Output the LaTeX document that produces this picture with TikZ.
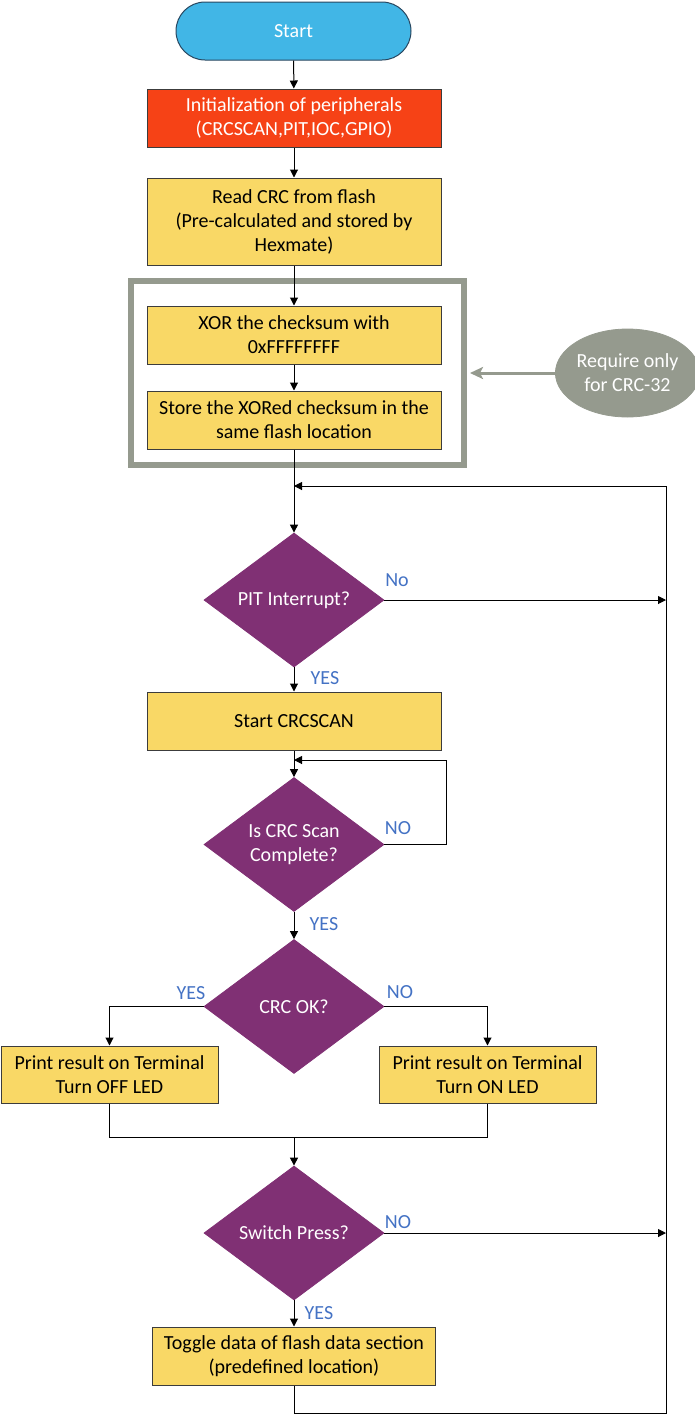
\documentclass[tikz,border=0pt]{standalone}
\usepackage{fontspec}
\setmainfont{Carlito}
\usetikzlibrary{shapes.geometric,arrows.meta}
\definecolor{startblue}{RGB}{65,182,230}
\definecolor{startedge}{RGB}{40,70,95}
\definecolor{initred}{RGB}{246,66,22}
\definecolor{boxyellow}{RGB}{249,216,102}
\definecolor{decpurple}{RGB}{128,48,116}
\definecolor{framegray}{RGB}{149,154,142}
\definecolor{lblblue}{RGB}{68,114,196}
\definecolor{edgedark}{RGB}{60,60,60}
\begin{document}
\begin{tikzpicture}[x=0.5pt,y=-0.5pt,
 every node/.style={font=\fontsize{10}{12}\selectfont, align=center, inner sep=0pt},
 procbox/.style={rectangle, draw=edgedark, line width=0.5pt, fill=boxyellow, minimum width=147pt, minimum height=29pt},
 decision/.style={diamond, aspect=1.33, fill=decpurple, draw=decpurple, minimum width=90pt, minimum height=67pt, text=white},
 lbl/.style={text=lblblue},
 arr/.style={draw=black, line width=0.5pt, -{Triangle[length=4pt,width=4pt]}},
 conn/.style={draw=black, line width=0.5pt}]

\useasboundingbox (0,0) rectangle (695,1415);

% frame for CRC-32 part
\node[rectangle, draw=framegray, line width=3pt, minimum width=166.5pt, minimum height=92pt] (frame) at (297.5,373) {};

\node[rectangle, rounded corners=14.5pt, fill=startblue, draw=startedge, line width=0.5pt, minimum width=117.5pt, minimum height=29pt, text=white] (start) at (293.5,31) {Start};
\node[procbox, fill=initred, text=white] (init) at (294,118) {Initialization of peripherals\\(CRCSCAN,PIT,IOC,GPIO)};
\node[procbox, minimum height=43.5pt] (read) at (294,221.5) {Read CRC from flash\\(Pre-calculated and stored by\\Hexmate)};
\node[procbox] (xor) at (294,335) {XOR the checksum with\\0xFFFFFFFF};
\node[procbox] (store) at (294,420) {Store the XORed checksum in the\\same flash location};

\node[ellipse, fill=framegray, draw=framegray, minimum width=65.5pt, minimum height=44pt, text=white] (note) at (627.5,373) {Require only\\for CRC-32};

\node[decision] (pit) at (294,600) {PIT Interrupt?};
\node[procbox] (scan) at (294,721) {Start CRCSCAN};
\node[decision] (iscrc) at (294,844.5) {Is CRC Scan\\Complete?};
\node[decision] (crcok) at (294,1006.5) {CRC OK?};
\node[procbox, minimum width=108.5pt, minimum height=28.5pt] (okbox) at (109.5,1074.5) {Print result on Terminal\\Turn OFF LED};
\node[procbox, minimum width=108.5pt, minimum height=28.5pt] (failbox) at (487.5,1074.5) {Print result on Terminal\\Turn ON LED};
\node[decision] (switch) at (294,1233) {Switch Press?};
\node[procbox, minimum width=141.5pt] (toggle) at (294,1356) {Toggle data of flash data section\\(predefined location)};

% labels
\node[lbl] (l1) at (397,580) {No};
\node[lbl] (l2) at (325,678) {YES};
\node[lbl] (l3) at (398,828) {NO};
\node[lbl] (l4) at (324,924) {YES};
\node[lbl] (l5) at (191,993) {YES};
\node[lbl] (l6) at (400,992) {NO};
\node[lbl] (l7) at (398,1222) {NO};
\node[lbl] (l8) at (319,1313) {YES};

% helper coordinates
\coordinate (jpit) at (666,600);
\coordinate (jsw) at (666,1233);
\coordinate (la) at (446,760);
\coordinate (lb) at (294,760);
\coordinate (m) at (294,1137);
\coordinate (b1) at (294,1413);
\coordinate (b2) at (666,1413);
\coordinate (b3) at (666,486);
\coordinate (b4) at (294,486);
\coordinate (fr) at ([xshift=1.5pt]frame.east);

% connectors
\draw[arr] (start) -- (init);
\draw[arr] (init) -- (read);
\draw[arr] (read) -- (xor);
\draw[arr] (xor) -- (store);
\draw[arr] (store) -- (pit);
\draw[arr] (pit.east) -- (jpit);
\draw[arr] (pit) -- (scan);
\draw[arr] (scan) -- (iscrc);
\draw[arr] (iscrc.east) -| (la) -- (lb);
\draw[arr] (iscrc) -- (crcok);
\draw[arr] (crcok.west) -| (okbox.north);
\draw[arr] (crcok.east) -| (failbox.north);
\draw[conn] (okbox.south) |- (m) -| (failbox.south);
\draw[arr] (m) -- (switch);
\draw[arr] (switch.east) -- (jsw);
\draw[arr] (switch) -- (toggle);
\draw[arr] (toggle.south) -- (b1) -- (b2) -- (b3) -- (b4);
\draw[draw=framegray, line width=1.5pt, -{Stealth[length=6.5pt,width=6pt,inset=1.5pt]}] (note.west) -- (fr);
\end{tikzpicture}
\end{document}
